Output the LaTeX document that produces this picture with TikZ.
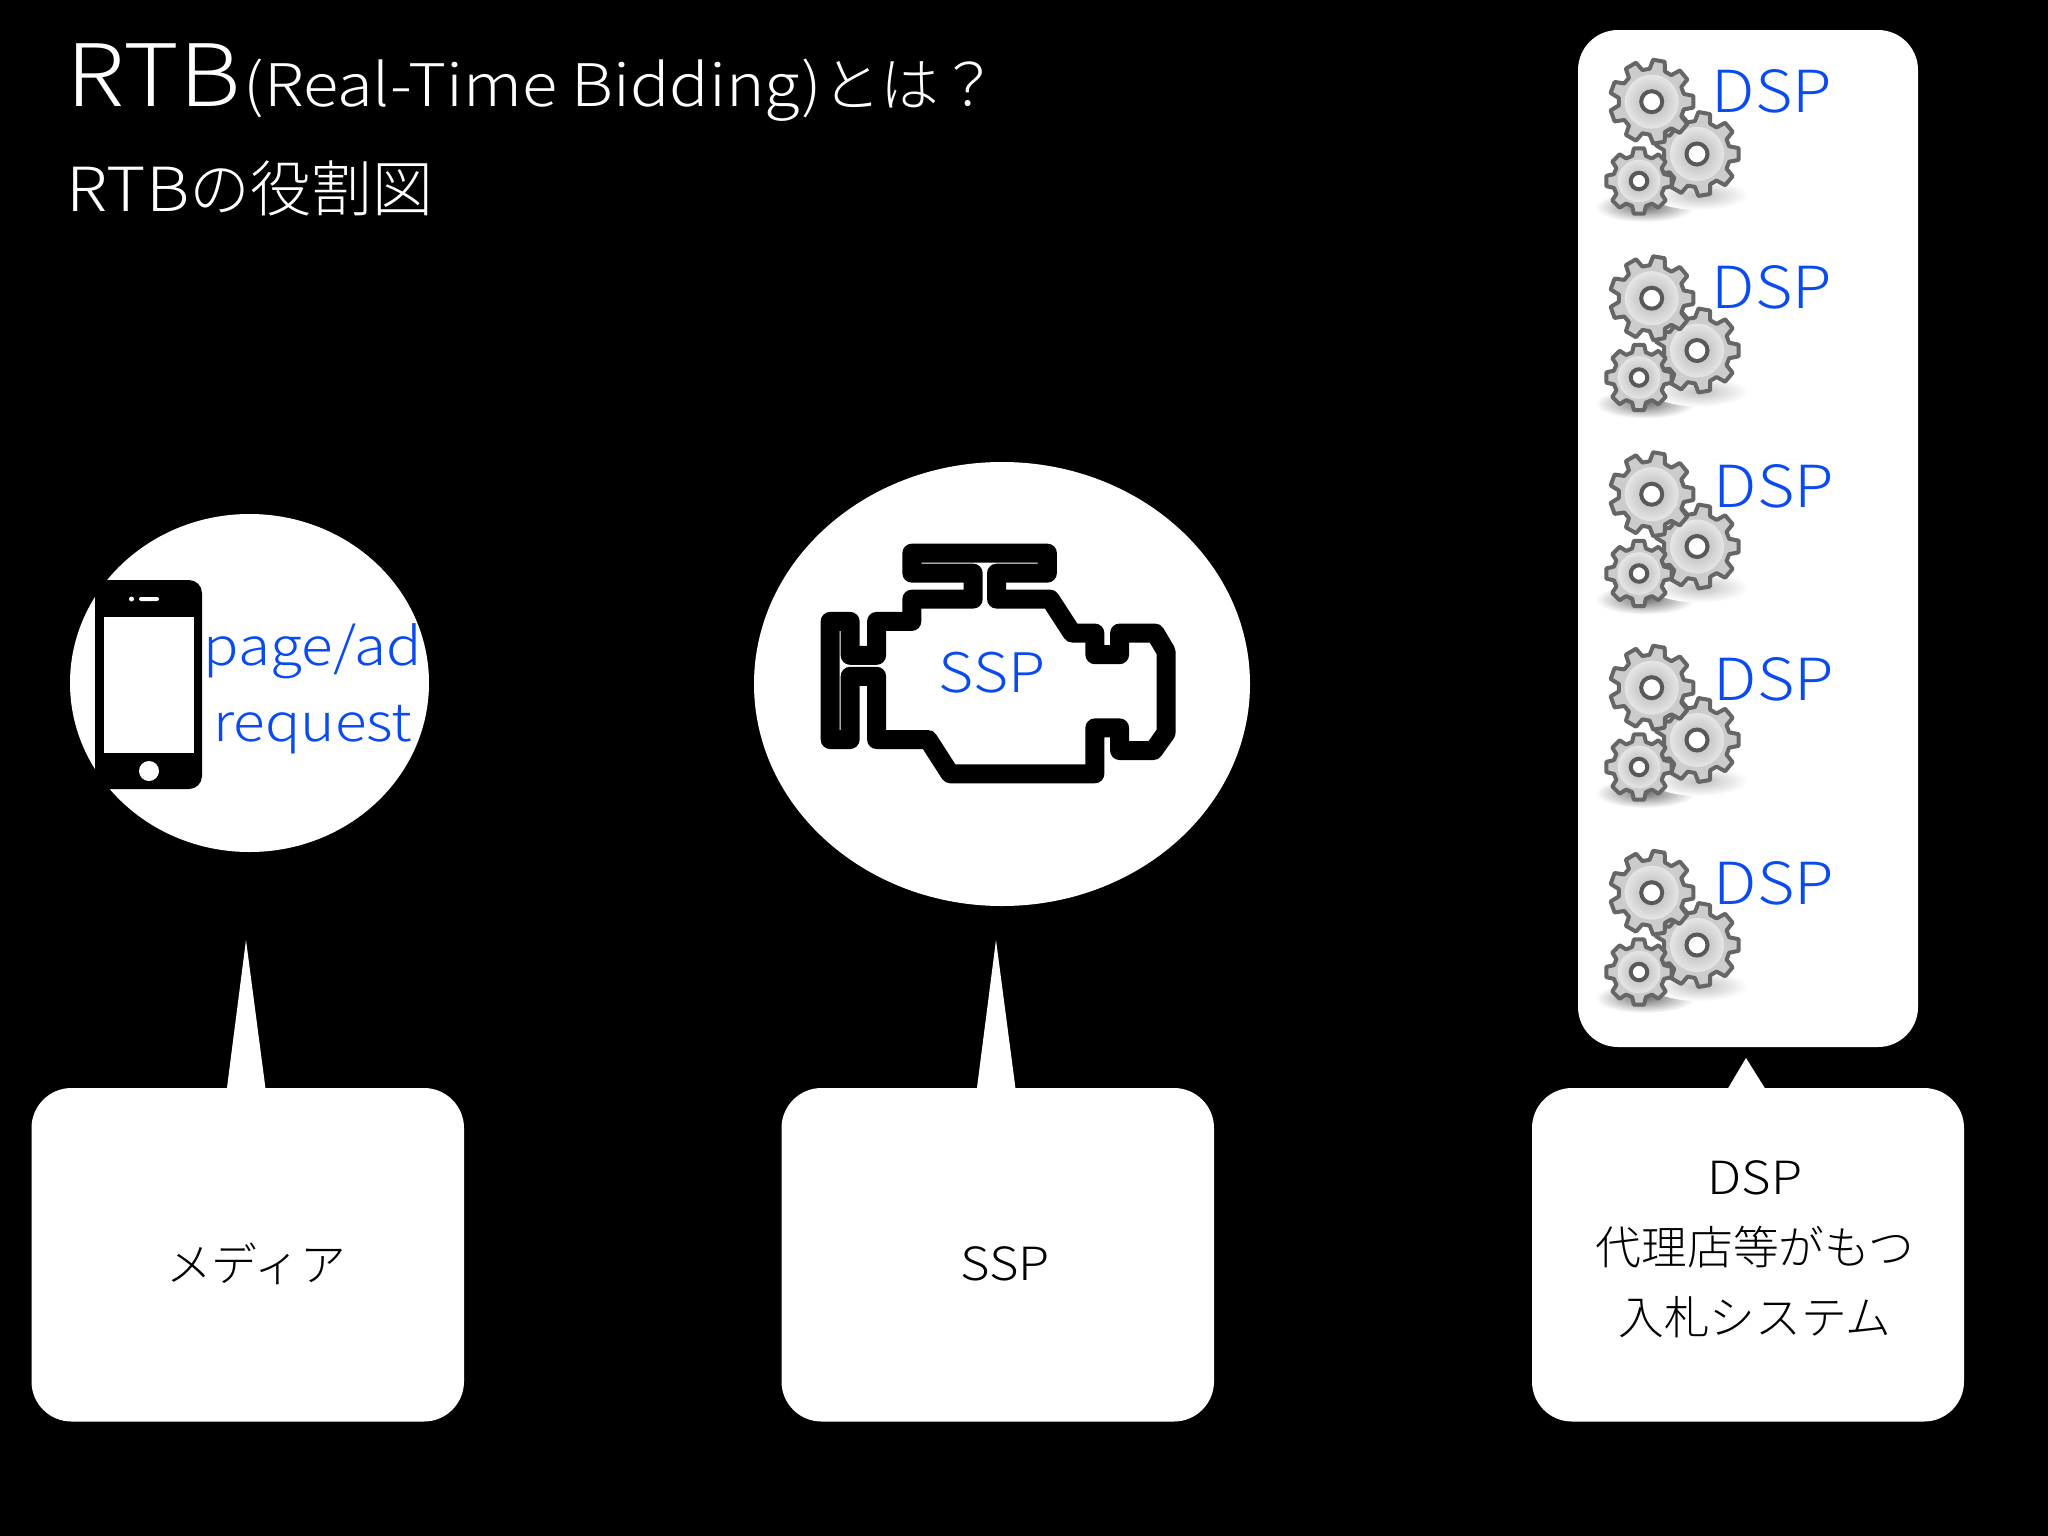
\documentclass[tikz,border=0pt]{standalone}
\usepackage{fontspec}
\setmainfont{Noto Sans CJK JP Light}
\newfontfamily\lat[FakeStretch=1.11]{Noto Sans CJK JP Light}
\definecolor{blu}{HTML}{0A4BEF}
\tikzset{bubble/.style = {fill=white, rounded corners=4mm},
    lbl/.style = {inner sep=0pt, align=center, font=\fontsize{13}{19.9}\selectfont},
    hdr/.style = {inner sep=0pt, anchor=base west, text=white},
    tag/.style = {inner sep=0pt, text=blu, font=\lat\fontsize{16.5}{16.5}\selectfont}}
% one toothed wheel: x, y, outer radius, inner radius, teeth
\newcommand{\wheel}[5]{
    \pgfmathsetmacro{\stp}{360/#5}
    \pgfmathsetmacro{\lst}{360-\stp}
    \begin{scope}[shift={(#1,#2)}]
    \draw[fill=black!20, draw=black!60, line width=0.4mm, line join=round]
        (-\stp*0.34:#4) \foreach \a in {0,\stp,...,\lst} {
            -- (\a-\stp*0.34:#4) -- (\a-\stp*0.2:#3) -- (\a+\stp*0.2:#3) -- (\a+\stp*0.34:#4)} -- cycle;
    \shade[inner color=black!30, outer color=black!10] (0,0) circle ({#4*0.82});
    \draw[fill=white, draw=black!65, line width=0.4mm] (0,0) circle ({#3*0.25});
    \end{scope}}
\begin{document}
\begin{tikzpicture}[x=0.01cm, y=-0.01cm]
    \useasboundingbox (0,0) rectangle (2048,1536);
    \fill[black] (0,0) rectangle (2048,1536);

    \node[hdr, font=\lat\fontsize{24.5}{24.5}\selectfont] (rtb) at (66,106) {RTB};
    \node[hdr, font=\fontsize{16.7}{16.7}\selectfont] (sub) at (243,106) {{\lat (Real-Time Bidding)}とは？};
    \node[hdr, font=\fontsize{17.3}{17.3}\selectfont] (role) at (66,211) {{\lat RTB}の役割図};

    % media
    \fill[white] (249.5,683) ellipse (179.5 and 169);
    \fill[black] (95,580) rectangle (110,789);
    \fill[black, rounded corners=1.3mm] (95,580) rectangle (202,789);
    \fill[white] (104,617) rectangle (194,753);
    \fill[white] (149,771) circle (10);
    \fill[white] (131.5,599) circle (2.5);
    \fill[white, rounded corners=0.2mm] (139,597) rectangle (159,601);
    \node[tag, font=\lat\fontsize{15}{15}\selectfont] (page) at (313,651) {page/ad};
    \node[tag, font=\lat\fontsize{15}{15}\selectfont] (req) at (313,730) {request};

    % ssp
    \fill[white] (1002,684) ellipse (248 and 222);
    \begin{scope}[shift={(740,450)}, x=0.00338cm, y=-0.00333cm]
    \draw[line width=1.9mm, line join=round] (507,310) -- (907,310) -- (907,370) -- (757,370)
        -- (757,448) -- (915,448) -- (980,550) -- (1047,550) -- (1047,615) -- (1120,615)
        -- (1120,550) -- (1225,550) -- (1257,605) -- (1257,850) -- (1220,903) -- (1120,903)
        -- (1120,835) -- (1047,835) -- (1047,973) -- (620,973) -- (555,870) -- (403,870)
        -- (403,680) -- (325,680) -- (325,870) -- (266,870) -- (266,515) -- (325,515)
        -- (325,617) -- (403,617) -- (403,515) -- (507,515) -- (507,448) -- (688,448)
        -- (688,370) -- (507,370) -- cycle;
    \end{scope}
    \node[tag, font=\lat\fontsize{15.5}{15.5}\selectfont] (ssp) at (992,673) {SSP};

    % dsp panel
    \fill[white, rounded corners=4mm] (1578,30) rectangle (1918,1047);
    \foreach \n/\y/\x/\d in {a/0/1772/1, b/196.5/1772/197.5, c/392.5/1774/396.5, d/586/1774/589, e/791/1774/793} {
        \begin{scope}[shift={(0,\y)}]
        \shade[inner color=black!55, outer color=white] (1645,207) ellipse (50 and 15);
        \shade[inner color=black!25, outer color=white] (1700,195) ellipse (48 and 15);
        \wheel{1697}{154}{42}{33}{9}
        \wheel{1651.7}{101.7}{42}{33}{9}
        \wheel{1639}{181}{33}{26}{8}
        \end{scope}
        \node[tag] (dsp\n) at (\x,90+\d) {DSP};
    }

    % callouts
    \fill[white] (226.7,1090) -- (246,940) -- (265.7,1090) -- cycle;
    \fill[white] (976.7,1090) -- (996,940) -- (1015.7,1090) -- cycle;
    \fill[white] (1727,1090) -- (1746,1058) -- (1766,1090) -- cycle;
    \fill[bubble] (31.5,1088) rectangle (464,1421.5);
    \fill[bubble] (781.5,1088) rectangle (1214,1421.5);
    \fill[bubble] (1532,1088) rectangle (1964,1421.5);
    \node[lbl] (media) at (256,1264) {メディア};
    \node[lbl] (sspbox) at (1005,1264) {{\lat SSP}};
    \node[lbl] (dspbox) at (1755,1249) {{\lat DSP}\\代理店等がもつ\\入札システム};
\end{tikzpicture}
\end{document}
